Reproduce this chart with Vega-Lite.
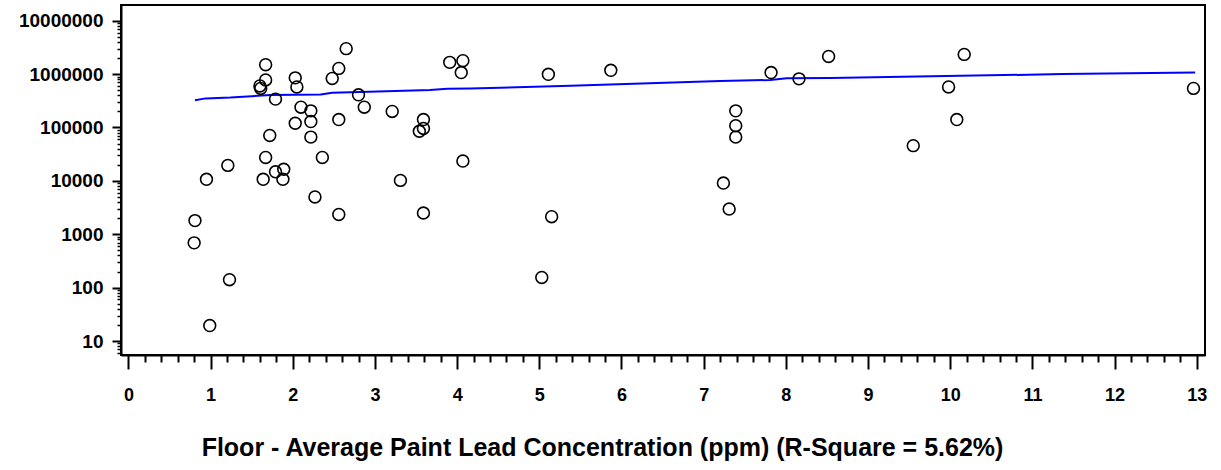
{
  "$schema": "https://vega.github.io/schema/vega-lite/v6.json",
  "autosize": "none",
  "width": 1084,
  "height": 350,
  "padding": {"left": 121, "top": 5, "right": 16, "bottom": 115},
  "background": "white",
  "config": {
    "view": {"stroke": "black", "strokeWidth": 2},
    "font": "Liberation Sans"
  },
  "datasets": {
    "pts": [
      {"x": 0.95, "y": 10700}, {"x": 1.21, "y": 19500}, {"x": 1.67, "y": 1500000}, {"x": 1.67, "y": 776000},
      {"x": 1.6, "y": 600000}, {"x": 1.61, "y": 540000}, {"x": 1.79, "y": 340000}, {"x": 1.72, "y": 71000},
      {"x": 1.67, "y": 27500}, {"x": 1.64, "y": 10700}, {"x": 1.79, "y": 14800}, {"x": 1.89, "y": 16500},
      {"x": 1.88, "y": 10700}, {"x": 2.03, "y": 850000}, {"x": 2.05, "y": 575000}, {"x": 2.1, "y": 240000},
      {"x": 2.22, "y": 205000}, {"x": 2.03, "y": 120000}, {"x": 2.22, "y": 129000}, {"x": 2.22, "y": 66000},
      {"x": 2.36, "y": 27500}, {"x": 2.27, "y": 5000}, {"x": 2.56, "y": 1280000}, {"x": 2.48, "y": 830000},
      {"x": 2.65, "y": 3000000}, {"x": 2.8, "y": 410000}, {"x": 2.87, "y": 240000}, {"x": 2.56, "y": 141000},
      {"x": 3.21, "y": 200000}, {"x": 3.31, "y": 10200}, {"x": 0.81, "y": 1800}, {"x": 0.8, "y": 690},
      {"x": 1.23, "y": 141}, {"x": 0.99, "y": 19.5}, {"x": 2.56, "y": 2350}, {"x": 3.59, "y": 2500},
      {"x": 3.91, "y": 1660000}, {"x": 4.07, "y": 1780000}, {"x": 4.05, "y": 1070000}, {"x": 5.11, "y": 990000},
      {"x": 5.87, "y": 1180000}, {"x": 7.82, "y": 1070000}, {"x": 8.16, "y": 815000}, {"x": 3.59, "y": 141000},
      {"x": 3.54, "y": 85000}, {"x": 3.59, "y": 96000}, {"x": 4.07, "y": 23500}, {"x": 7.39, "y": 205000},
      {"x": 7.39, "y": 108000}, {"x": 7.39, "y": 66000}, {"x": 7.24, "y": 9100}, {"x": 5.15, "y": 2130},
      {"x": 5.03, "y": 155}, {"x": 7.31, "y": 2960}, {"x": 8.52, "y": 2140000}, {"x": 10.17, "y": 2340000},
      {"x": 9.98, "y": 575000}, {"x": 10.08, "y": 141000}, {"x": 9.55, "y": 45700}, {"x": 12.96, "y": 540000}
    ],
    "fit": [
      {"x": 0.81, "y": 323600}, {"x": 0.94, "y": 350800}, {"x": 1.24, "y": 363100}, {"x": 1.73, "y": 407400},
      {"x": 2.34, "y": 416900}, {"x": 2.48, "y": 446700}, {"x": 2.82, "y": 462400}, {"x": 3.67, "y": 501200},
      {"x": 3.88, "y": 530000}, {"x": 4.16, "y": 537000}, {"x": 5.38, "y": 602600}, {"x": 7.2, "y": 741300},
      {"x": 7.81, "y": 776200}, {"x": 8.01, "y": 831800}, {"x": 8.54, "y": 841400}, {"x": 11.37, "y": 1000000},
      {"x": 12.98, "y": 1071500}
    ]
  },
  "layer": [
    {
      "data": {"name": "fit"},
      "mark": {"type": "line", "color": "#0000ff", "strokeWidth": 2, "clip": true},
      "encoding": {
        "x": {"field": "x", "type": "quantitative",
          "scale": {"domain": [-0.09, 13.1], "nice": false, "zero": false},
          "axis": {"orient": "bottom", "values": [0.2,0.4,0.6,0.8,1.2,1.4,1.6,1.8,2.2,2.4,2.6,2.8,3.2,3.4,3.6,3.8,4.2,4.4,4.6,4.8,5.2,5.4,5.6,5.8,6.2,6.4,6.6,6.8,7.2,7.4,7.6,7.8,8.2,8.4,8.6,8.8,9.2,9.4,9.6,9.8,10.2,10.4,10.6,10.8,11.2,11.4,11.6,11.8,12.2,12.4,12.6,12.8],
            "labels": false, "domain": false, "grid": false, "title": null,
            "tickSize": 7, "tickWidth": 2, "tickColor": "black"}},
        "y": {"field": "y", "type": "quantitative",
          "scale": {"type": "log", "domain": [5.47, 19700000], "nice": false},
          "axis": {"orient": "left", "values": [6,7,8,9,20,30,40,50,60,70,80,90,200,300,400,500,600,700,800,900,2000,3000,4000,5000,6000,7000,8000,9000,20000,30000,40000,50000,60000,70000,80000,90000,200000,300000,400000,500000,600000,700000,800000,900000,2000000,3000000,4000000,5000000,6000000,7000000,8000000,9000000],
            "labels": false, "domain": false, "grid": false, "title": null,
            "tickSize": 4, "tickWidth": 1.5, "tickColor": "black"}}
      }
    },
    {
      "data": {"name": "pts"},
      "mark": {"type": "point", "shape": "circle", "filled": false, "color": "black", "strokeWidth": 1.6, "size": 140, "opacity": 1},
      "encoding": {
        "x": {"field": "x", "type": "quantitative",
          "axis": {"orient": "bottom", "values": [0,1,2,3,4,5,6,7,8,9,10,11,12,13], "format": "d",
            "domain": true, "domainColor": "black", "domainWidth": 2, "grid": false,
            "tickSize": 14, "tickWidth": 2, "tickColor": "black",
            "labelFont": "Liberation Sans", "labelFontWeight": "bold", "labelFontSize": 18, "labelColor": "black", "labelPadding": 17,
            "title": "Floor - Average Paint Lead Concentration (ppm) (R-Square = 5.62%)",
            "titleFont": "Liberation Sans", "titleFontWeight": "bold", "titleFontSize": 25, "titleColor": "black",
            "titleX": 481, "titleY": 80, "titleAlign": "center", "titleBaseline": "top", "titleAnchor": null}},
        "y": {"field": "y", "type": "quantitative",
          "axis": {"orient": "left", "values": [10,100,1000,10000,100000,1000000,10000000], "format": "d",
            "domain": true, "domainColor": "black", "domainWidth": 2, "grid": false,
            "tickSize": 9, "tickWidth": 2, "tickColor": "black",
            "labelFont": "Liberation Sans", "labelFontWeight": "bold", "labelFontSize": 19, "labelColor": "black", "labelPadding": 9,
            "title": null}}
      }
    }
  ],
  "resolve": {"axis": {"x": "independent", "y": "independent"}}
}
